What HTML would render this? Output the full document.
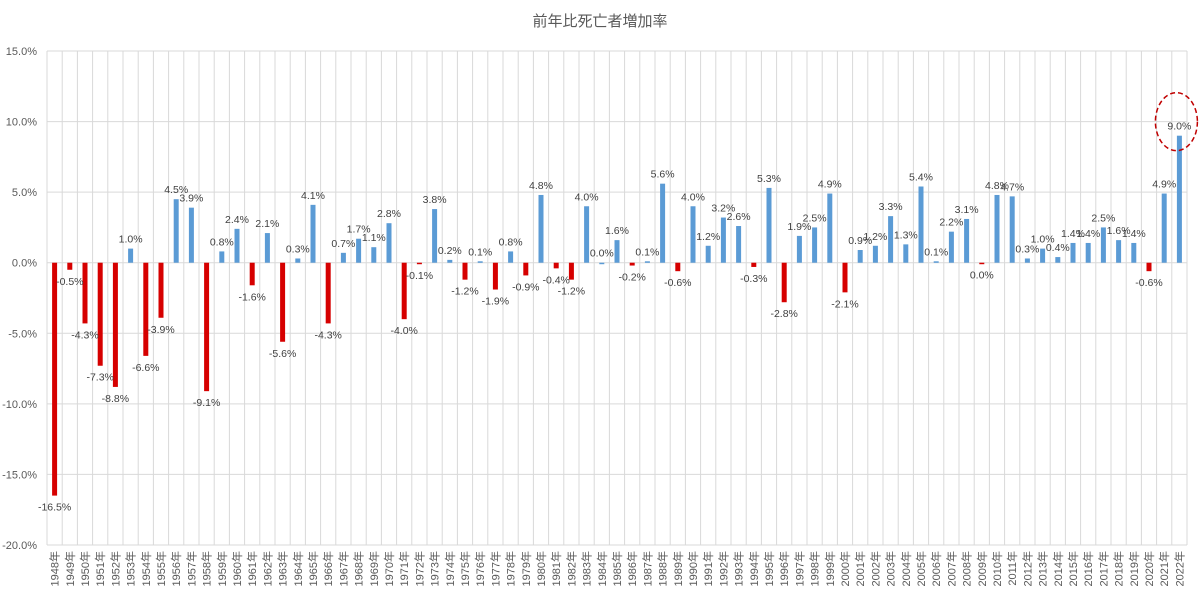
<!DOCTYPE html>
<html><head><meta charset="utf-8"><style>
body{margin:0;background:#fff;width:1200px;height:592px;overflow:hidden;font-family:"Liberation Sans","Noto Sans CJK JP",sans-serif}
</style></head><body>
<svg id="chart" width="1200" height="592" xmlns="http://www.w3.org/2000/svg" font-family="Liberation Sans, Noto Sans CJK JP, sans-serif">
<text x="600" y="26" text-anchor="middle" font-size="15" fill="#595959">前年比死亡者増加率</text>
<g id="grid"></g><g id="yaxis"></g><g id="bars"></g><g id="labels"></g><g id="xaxis"></g>
</svg>
<script>
const years = [];
for (let y = 1948; y <= 2022; y++) years.push(y + '年');
const values = [-16.5,-0.5,-4.3,-7.3,-8.8,1.0,-6.6,-3.9,4.5,3.9,-9.1,0.8,2.4,-1.6,2.1,-5.6,0.3,4.1,-4.3,0.7,1.7,1.1,2.8,-4.0,-0.1,3.8,0.2,-1.2,0.1,-1.9,0.8,-0.9,4.8,-0.4,-1.2,4.0,0.0,1.6,-0.2,0.1,5.6,-0.6,4.0,1.2,3.2,2.6,-0.3,5.3,-2.8,1.9,2.5,4.9,-2.1,0.9,1.2,3.3,1.3,5.4,0.1,2.2,3.1,-0.04,4.8,4.7,0.3,1.0,0.4,1.4,1.4,2.5,1.6,1.4,-0.6,4.9,9.0];
const yTicks = [15,10,5,0,-5,-10,-15,-20];
const NS='http://www.w3.org/2000/svg';
const L=47, R=1187, T=51, B=545, yMax=15, yMin=-20;
const step=(R-L)/years.length;
const yS=v=>T+(yMax-v)/(yMax-yMin)*(B-T);
const xC=i=>L+step*(i+0.5);
function mk(tag,attrs,parent){const e=document.createElementNS(NS,tag);for(const k in attrs)e.setAttribute(k,attrs[k]);document.getElementById(parent).appendChild(e);return e;}
yTicks.forEach(t=>{
  const g=mk('line',{x1:L,x2:R,y1:yS(t),y2:yS(t),stroke:'#d9d9d9','stroke-width':1},'grid');
  
  
  const tx=mk('text',{x:L-10,y:yS(t)+4,'text-anchor':'end','font-size':11,fill:'#595959'},'yaxis');
  tx.textContent=t.toFixed(1)+'%';
  
  
});
for(let i=0;i<=years.length;i++){
  const g=mk('line',{x1:L+step*i,x2:L+step*i,y1:T,y2:B,stroke:'#d9d9d9','stroke-width':1},'grid');
  
  
}
values.forEach((v,i)=>{
  const x=xC(i), y0=yS(0), y1=yS(v);
  const neg=v<0;
  const r=mk('rect',{x:x-2.5,y:Math.min(y0,y1),width:5,height:Math.max(Math.abs(y1-y0),1.5),fill:neg?'#d60000':'#5b9bd5'},'bars');
  
  
  const lt=mk('text',{x:x,y:neg?y1+15:y1-6,'text-anchor':'middle','font-size':10.5,fill:'#404040'},'labels');
  lt.textContent=(Math.abs(v)<0.05?'0.0':v.toFixed(1))+'%';
  
  
  const xt=mk('text',{transform:'translate('+(x+4)+','+(B+6)+') rotate(-90)','text-anchor':'end','font-size':11,fill:'#595959'},'xaxis');
  xt.textContent=years[i];
  
  
});
const last=values.length-1;
const el=mk('ellipse',{cx:xC(last)-3,cy:yS(values[last])-14,rx:21,ry:29,fill:'none',stroke:'#c00000','stroke-width':1.5,'stroke-dasharray':'5,3'},'labels');


</script>
</body></html>
